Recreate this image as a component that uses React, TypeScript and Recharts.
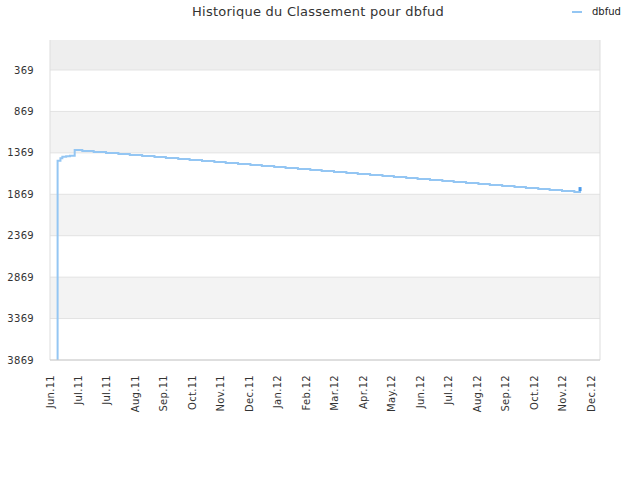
import React from "react";
import {
  LineChart,
  Line,
  XAxis,
  YAxis,
  ReferenceArea,
  ReferenceLine,
} from "recharts";

// dates of the ranking snapshots and the rank on each date
const dates = [
  "2011-06-09", "2011-06-10", "2011-06-13", "2011-06-15", "2011-06-19",
  "2011-06-23", "2011-06-28", "2011-07-06", "2011-07-18", "2011-07-31",
  "2011-08-13", "2011-08-25", "2011-09-07", "2011-09-20", "2011-10-02",
  "2011-10-15", "2011-10-27", "2011-11-09", "2011-11-22", "2011-12-04",
  "2011-12-17", "2011-12-30", "2012-01-11", "2012-01-24", "2012-02-05",
  "2012-02-18", "2012-03-02", "2012-03-14", "2012-03-27", "2012-04-09",
  "2012-04-21", "2012-05-04", "2012-05-17", "2012-05-29", "2012-06-11",
  "2012-06-23", "2012-07-06", "2012-07-19", "2012-07-31", "2012-08-13",
  "2012-08-26", "2012-09-07", "2012-09-20", "2012-10-03", "2012-10-15",
  "2012-10-28", "2012-11-09", "2012-11-22", "2012-12-05", "2012-12-11",
];

const ranks = [
  3869, 1464, 1435, 1415, 1410,
  1403, 1335, 1347, 1359, 1371,
  1383, 1395, 1407, 1419, 1432,
  1444, 1456, 1468, 1480, 1492,
  1504, 1516, 1528, 1540, 1552,
  1564, 1576, 1588, 1600, 1613,
  1625, 1637, 1649, 1661, 1673,
  1685, 1697, 1709, 1721, 1733,
  1745, 1757, 1769, 1781, 1794,
  1806, 1818, 1830, 1842, 1806,
];

const tickDates = [
  "2011-06-02", "2011-07-01", "2011-07-31", "2011-08-30", "2011-09-29",
  "2011-10-29", "2011-11-28", "2011-12-28", "2012-01-27", "2012-02-26",
  "2012-03-27", "2012-04-26", "2012-05-26", "2012-06-25", "2012-07-25",
  "2012-08-24", "2012-09-23", "2012-10-23", "2012-11-22", "2012-12-22",
];

const tickLabels = [
  "Jun.11", "Jul.11", "Jul.11", "Aug.11", "Sep.11",
  "Oct.11", "Nov.11", "Dec.11", "Jan.12", "Feb.12",
  "Mar.12", "Apr.12", "May.12", "Jun.12", "Jul.12",
  "Aug.12", "Sep.12", "Oct.12", "Nov.12", "Dec.12",
];

const rankTicks = [369, 869, 1369, 1869, 2369, 2869, 3369, 3869];
const rankDomain = [7, 3869];
const dateDomain = ["2011-06-02", "2013-01-01"];

// shaded bands between grid lines
const bands = [
  [7, 369, "#eeeeee"],
  [869, 1369, "#f3f3f3"],
  [1869, 2369, "#f3f3f3"],
  [2869, 3369, "#f3f3f3"],
] as const;

const seriesName = "dbfud";
const title = "Historique du Classement pour dbfud";

const toTime = (d: string) => Date.parse(d);

const data = dates.map((d, i) => ({ t: toTime(d), rank: ranks[i] }));
const ticks = tickDates.map(toTime);
const labelFor = new Map(ticks.map((t, i) => [t, tickLabels[i]]));
const xDomain = dateDomain.map(toTime);

const FONT = "'DejaVu Sans', sans-serif";
const LINE = "#94c6f3";

function LastDot(props: any) {
  const { cx, cy, index } = props;
  if (index !== data.length - 1) return null;
  return <rect x={cx - 1.5} y={cy - 2} width={3} height={4} fill="#4d9ceb" />;
}

function XTick(props: any) {
  const { x, y, payload } = props;
  return (
    <text
      x={x}
      y={y}
      transform={`rotate(-90 ${x} ${y})`}
      dx={-7}
      dy={4}
      textAnchor="end"
      fontSize={10}
      letterSpacing={0.3}
      fill="#333"
      fontFamily={FONT}
    >
      {labelFor.get(payload.value)}
    </text>
  );
}

export default function App() {
  return (
    <div
      style={{
        position: "absolute",
        left: 0,
        top: 0,
        width: 640,
        height: 480,
        background: "#fff",
        fontFamily: FONT,
      }}
    >
      <div
        style={{
          position: "absolute",
          top: 4,
          left: 0,
          width: 636,
          textAlign: "center",
          fontSize: 13,
          letterSpacing: 0.25,
          color: "#333",
        }}
      >
        {title}
      </div>
      <div
        style={{
          position: "absolute",
          top: 6,
          left: 572,
          fontSize: 10,
          color: "#222",
          display: "flex",
          alignItems: "center",
        }}
      >
        <span
          style={{
            display: "inline-block",
            width: 10,
            height: 2,
            background: LINE,
            marginRight: 10,
          }}
        />
        {seriesName}
      </div>
      <LineChart
        width={640}
        height={480}
        data={data}
        margin={{ top: 40, right: 40, left: 0, bottom: 50 }}
      >
        {bands.map(([y1, y2, fill]) => (
          <ReferenceArea
            key={y1}
            y1={y1}
            y2={y2}
            fill={fill}
            fillOpacity={1}
            stroke="none"
            ifOverflow="hidden"
          />
        ))}
        {rankTicks.map((r) => (
          <ReferenceLine key={r} y={r} stroke="#e2e2e2" strokeWidth={1} />
        ))}
        {xDomain.map((t) => (
          <ReferenceLine key={t} x={t} stroke="#dddddd" strokeWidth={1} />
        ))}
        <XAxis
          type="number"
          dataKey="t"
          scale="time"
          domain={xDomain}
          ticks={ticks}
          interval={0}
          height={70}
          tick={<XTick />}
          tickLine={false}
          axisLine={{ stroke: "#cccccc" }}
          allowDataOverflow
        />
        <YAxis
          type="number"
          dataKey="rank"
          reversed
          domain={rankDomain}
          ticks={rankTicks}
          interval={0}
          width={50}
          tick={{ fontSize: 10, fill: "#333", fontFamily: FONT, letterSpacing: 0.3 }}
          tickLine={false}
          axisLine={false}
          tickMargin={10}
          allowDataOverflow
        />
        <Line
          type="stepAfter"
          dataKey="rank"
          stroke={LINE}
          strokeWidth={2}
          dot={<LastDot />}
          activeDot={false}
          isAnimationActive={false}
        />
      </LineChart>
    </div>
  );
}
